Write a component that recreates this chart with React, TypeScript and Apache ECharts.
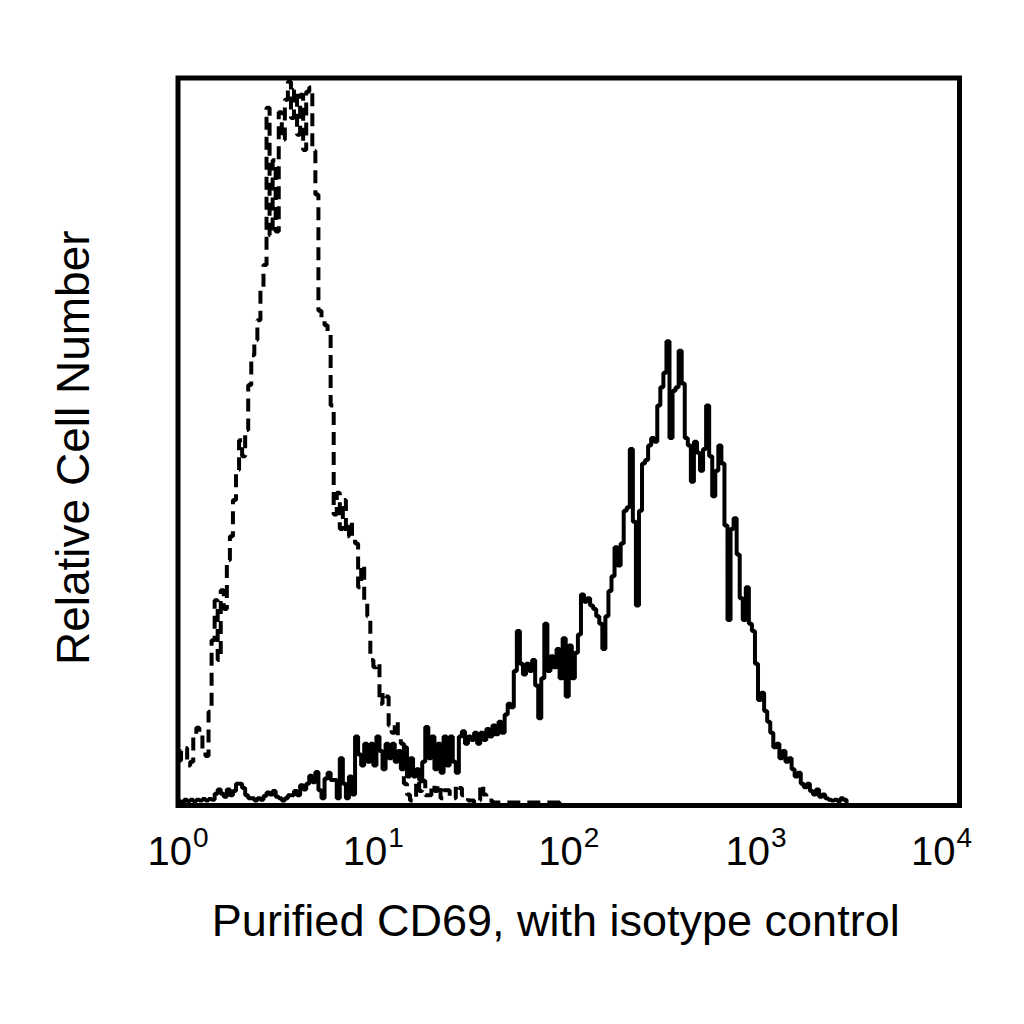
import { useEffect, useRef } from "react";
import * as echarts from "echarts";

// 256-channel log histogram, 64 channels per decade (10^0 .. 10^4)
const CHANNELS_PER_DECADE = 64;
const TOTAL_CHANNELS = 256;
const DECADE_TICKS = [0, 64, 128, 192, 256];
// extra space after a tick label, so the label sits left of its tick
const DECADE_LABEL_SHIFT = [0, 0, 0, 16, 36];

// isotype control (dashed), counts per channel starting at channel 0
const isoCounts = [
  6.2, 7.5, 7.9, 5.5, 6.0, 9.7, 10.7, 10.0, 7.4, 6.8,
  12.9, 22.7, 28.2, 20.0, 29.6, 27.0, 33.7, 37.0, 42.0, 46.1,
  50.2, 48.0, 51.6, 57.8, 61.9, 64.0, 66.7, 70.9, 74.3, 95.9,
  78.4, 88.7, 78.9, 95.3, 91.5, 97.0, 99.5, 94.5, 98.4, 92.2,
  97.7, 90.1, 98.1, 98.7, 90.0, 84.0, 68.0, 67.0, 66.0, 65.0,
  55.0, 40.0, 43.0, 38.0, 42.0, 37.0, 39.0, 37.0, 36.0, 30.0,
  33.0, 28.0, 26.0, 20.0, 19.0, 19.5, 14.0, 15.5, 15.0, 11.0,
  10.0, 11.5, 9.5, 8.5, 3.0, 1.5, 0.7, 0.7, 3.4, 2.0,
  3.4, 1.4, 1.4, 2.8, 2.0, 2.8, 1.0, 2.1, 2.1, 1.0,
  1.0, 2.8, 2.4, 1.4, 1.4, 0.7, 0.7, 0.3, 0.7, 2.8,
  1.5, 1.0, 0.7, 0.4, 0.4, 0.4, 0.4, 0.4, 0.4, 0.4,
  0.4, 0.4, 0.4, 0.4, 0.4, 0.4, 0.4, 0.4, 0.4, 0.4,
  0.4, 0.4, 0.4, 0.4, 0.4, 0, 0,
];

// purified CD69 (solid), counts per channel starting at channel 0
const cd69Counts = [
  0.6, 0.4, 0.8, 0.6, 0.8, 0.6, 0.8, 0.7, 0.9, 0.7,
  0.9, 0.8, 1.6, 2.2, 1.6, 1.2, 2.2, 1.4, 2.0, 3.0,
  3.0, 2.4, 1.4, 1.0, 1.0, 0.7, 1.0, 0.8, 1.3, 1.8,
  1.5, 2.0, 1.2, 1.0, 0.7, 1.0, 1.4, 1.4, 2.0, 1.4,
  2.8, 2.2, 3.0, 4.1, 3.2, 4.6, 2.1, 1.0, 3.7, 4.5,
  3.5, 3.5, 1.0, 6.5, 3.0, 1.0, 4.0, 1.5, 9.5, 7.0,
  5.5, 8.5, 6.0, 8.5, 5.5, 9.5, 7.5, 5.0, 8.5, 6.5,
  8.5, 6.0, 7.5, 5.0, 8.0, 4.0, 6.5, 4.0, 5.0, 3.5,
  6.0, 10.8, 6.5, 9.5, 5.0, 8.5, 4.5, 9.5, 5.5, 9.5,
  6.0, 4.5, 9.5, 10.2, 8.5, 9.5, 9.0, 10.0, 8.5, 10.0,
  9.0, 10.5, 9.5, 11.0, 9.8, 11.5, 10.0, 12.5, 14.0, 13.5,
  18.5, 24.0, 19.5, 18.0, 19.5, 18.5, 20.0, 16.5, 12.0, 17.5,
  25.0, 18.5, 20.5, 19.0, 21.5, 17.5, 23.0, 15.0, 22.0, 17.5,
  21.0, 23.5, 29.0, 28.0, 28.5, 27.5, 27.0, 26.0, 25.0, 21.5,
  26.0, 29.5, 31.5, 35.5, 33.0, 36.0, 40.5, 41.0, 49.0, 39.0,
  27.5, 40.5, 47.0, 47.5, 49.5, 50.5, 50.0, 55.0, 57.5, 59.5,
  63.8, 50.5, 57.0, 57.5, 62.5, 58.0, 50.5, 49.5, 44.5, 50.0,
  48.5, 46.0, 49.0, 55.0, 48.0, 42.5, 46.0, 49.5, 47.0, 38.5,
  25.5, 38.0, 39.5, 34.5, 28.5, 25.5, 30.0, 25.0, 24.0, 19.5,
  14.5, 15.5, 13.0, 11.5, 10.0, 8.0, 8.5, 6.5, 7.5, 6.0,
  6.5, 5.0, 4.0, 4.5, 3.0, 2.5, 3.0, 2.0, 1.5, 2.2,
  1.2, 1.5, 1.0, 0.8, 0.7, 0.8, 0.6, 1.0, 0.8, 0, 0,
];

const X_TITLE = "Purified CD69, with isotype control";
const Y_TITLE = "Relative Cell Number";

const FONT = '"Liberation Sans", Arial, Helvetica, sans-serif';

export default function App() {
  const chartEl = useRef<HTMLDivElement>(null);

  useEffect(() => {
    if (!chartEl.current) return;
    const chart = echarts.init(chartEl.current, undefined, { renderer: "svg" });

    const toPoints = (counts: number[]) => counts.map((c, ch) => [ch, c]);

    chart.setOption({
      animation: false,
      backgroundColor: "#ffffff",
      grid: {
        show: true,
        left: 178,
        top: 78,
        right: 64.5,
        bottom: 218.5,
        borderColor: "#000000",
        borderWidth: 5,
        backgroundColor: "transparent",
      },
      xAxis: {
        type: "value",
        min: 0,
        max: TOTAL_CHANNELS,
        interval: CHANNELS_PER_DECADE,
        axisLine: { show: false },
        axisTick: { show: false },
        splitLine: { show: false },
        axisLabel: {
          show: true,
          margin: 24,
          showMinLabel: true,
          showMaxLabel: true,
          formatter: (v: number) => {
            const i = DECADE_TICKS.indexOf(v);
            if (i < 0) return "";
            const label = `{b|10}{s|${v / CHANNELS_PER_DECADE}}`;
            return DECADE_LABEL_SHIFT[i] > 0 ? `${label}{p${i}| }` : label;
          },
          rich: {
            b: {
              fontFamily: FONT,
              fontSize: 40,
              lineHeight: 42,
              color: "#000000",
            },
            s: {
              fontFamily: FONT,
              fontSize: 28,
              lineHeight: 28,
              padding: [0, 0, 26, 1],
              color: "#000000",
            },
            p3: { width: DECADE_LABEL_SHIFT[3], fontSize: 10 },
            p4: { width: DECADE_LABEL_SHIFT[4], fontSize: 10 },
          },
        },
        name: X_TITLE,
        nameLocation: "middle",
        nameGap: 92,
        nameTextStyle: {
          fontFamily: FONT,
          fontSize: 45,
          color: "#000000",
          padding: [0, 26, 0, 0],
        },
      },
      yAxis: {
        type: "value",
        min: 0,
        max: 100,
        axisLine: { show: false },
        axisTick: { show: false },
        axisLabel: { show: false },
        splitLine: { show: false },
        name: Y_TITLE,
        nameLocation: "middle",
        nameGap: 82,
        nameTextStyle: {
          fontFamily: FONT,
          fontSize: 46,
          color: "#000000",
          padding: [0, 12, 0, 0],
        },
      },
      series: [
        {
          name: "Isotype control",
          type: "line",
          step: "end",
          showSymbol: false,
          symbol: "none",
          data: toPoints(isoCounts),
          lineStyle: { color: "#000000", width: 4, type: [13, 7] },
          z: 3,
        },
        {
          name: "Purified CD69",
          type: "line",
          step: "end",
          showSymbol: false,
          symbol: "none",
          data: toPoints(cd69Counts),
          lineStyle: { color: "#000000", width: 4 },
          z: 4,
        },
      ],
    });

    return () => {
      chart.dispose();
    };
  }, []);

  return (
    <div
      ref={chartEl}
      style={{ position: "fixed", left: 0, top: 0, width: 1024, height: 1024 }}
    />
  );
}
